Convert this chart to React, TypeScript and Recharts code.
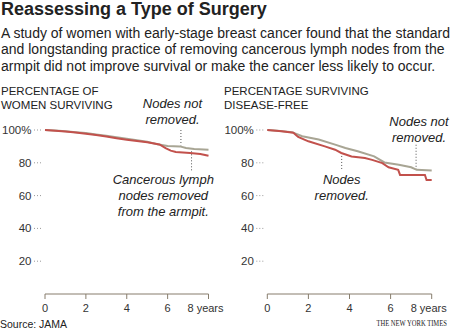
import { LineChart, Line, XAxis, YAxis, ReferenceLine } from 'recharts';

const yearTicks = [0, 2, 4, 6, 8];
const pctTicks = [20, 40, 60, 80, 100];

// Percentage of women surviving
const survNotRemovedYears = [0, 0.5, 1, 1.5, 2, 2.5, 3, 3.5, 4, 4.5, 5, 5.5, 6, 6.6, 6.9, 7.3, 8];
const survNotRemovedPct = [100, 99.7, 99.2, 98.7, 98.1, 97.3, 96.5, 95.6, 94.7, 93.8, 92.8, 91.3, 90.3, 90.0, 89.0, 88.4, 88.0];
const survRemovedYears = [0, 0.5, 1, 1.5, 2, 2.5, 3, 3.5, 4, 4.5, 5, 5.6, 5.9, 6.15, 6.4, 7.1, 7.6, 8];
const survRemovedPct = [100, 99.6, 99.1, 98.5, 97.7, 96.9, 96.0, 95.0, 94.1, 93.3, 92.5, 91.2, 89.0, 87.4, 86.6, 86.0, 85.4, 84.3];

// Percentage surviving disease-free
const dfNotRemovedYears = [0, 0.5, 1.2, 1.7, 2.5, 3.3, 3.8, 4.4, 5.2, 5.7, 6.4, 7.0, 7.27, 8];
const dfNotRemovedPct = [100, 99.5, 98.7, 96.2, 94.2, 91.1, 89.0, 87.0, 83.9, 80.2, 78.8, 77.3, 75.7, 75.3];
const dfRemovedYears = [0, 0.7, 1.27, 1.5, 2.0, 2.8, 3.3, 3.6, 4.1, 4.75, 5.1, 5.6, 5.9, 6.37, 6.46, 7.67, 7.75, 8];
const dfRemovedPct = [100, 99.3, 98.3, 95.8, 93.1, 90.0, 88.0, 86.0, 83.9, 82.9, 81.8, 79.8, 77.3, 75.7, 72.6, 72.6, 69.5, 69.5];

const GRAY = '#a8a594';
const RED = '#c2514c';
const AXIS = '#877d6d';
const FONT = '"Liberation Sans", Arial, sans-serif';

const toPoints = (years: number[], pct: number[]) => years.map((year, i) => ({ year, pct: pct[i] }));

function YearTick({ x, y, payload }: any) {
  const last = payload.value === 8;
  return (
    <text x={x} y={y + 13} dx={last ? -3 : 0} textAnchor="middle" fontSize={11} fill="#333" fontFamily={FONT}>
      {last ? '8 years' : payload.value}
    </text>
  );
}

function PctTick({ x, y, payload }: any) {
  return (
    <g>
      <line x1={x - 11} x2={x - 4} y1={y} y2={y} stroke="#999" strokeDasharray="1 2" />
      <text x={x - 13.5} y={y + 4} textAnchor="end" fontSize={11.5} fill="#333" fontFamily={FONT}>
        {payload.value === 100 ? '100%' : payload.value}
      </text>
    </g>
  );
}

type Leader = { x: number; y1: number; y2: number };

function Panel({ left, yWidth, rightMargin, notRemoved, removed, leaders }: {
  left: number; yWidth: number; rightMargin: number;
  notRemoved: { year: number; pct: number }[];
  removed: { year: number; pct: number }[];
  leaders: Leader[];
}) {
  return (
    <div style={{ position: 'absolute', left, top: 120 }}>
      <LineChart width={225} height={200} margin={{ top: 10, right: rightMargin, left: 0, bottom: 0 }}>
        <XAxis
          dataKey="year"
          type="number"
          domain={[0, 8]}
          ticks={yearTicks}
          height={26}
          stroke={AXIS}
          tickSize={5}
          tickMargin={0}
          tick={<YearTick />}
          allowDuplicatedCategory={false}
        />
        <YAxis
          type="number"
          domain={[0, 100]}
          ticks={pctTicks}
          width={yWidth}
          axisLine={false}
          tickLine={false}
          tickSize={0}
          tickMargin={0}
          tick={<PctTick />}
        />
        {leaders.map((l, i) => (
          <ReferenceLine
            key={i}
            segment={[{ x: l.x, y: l.y1 }, { x: l.x, y: l.y2 }]}
            stroke="#555"
            strokeDasharray="1 2"
          />
        ))}
        <Line data={notRemoved} dataKey="pct" stroke={GRAY} strokeWidth={2} dot={false} isAnimationActive={false} />
        <Line data={removed} dataKey="pct" stroke={RED} strokeWidth={2} dot={false} isAnimationActive={false} />
      </LineChart>
    </div>
  );
}

const note = (left: number, top: number, lines: string[]) => (
  <div style={{
    position: 'absolute', left: left - 70, top, width: 140, textAlign: 'center',
    fontStyle: 'italic', fontSize: 13, lineHeight: '16px', color: '#222'
  }}>
    {lines.map((t, i) => <div key={i}>{t}</div>)}
  </div>
);

export default function App() {
  return (
    <div style={{ position: 'absolute', left: 0, top: 0, width: 450, height: 330, overflow: 'hidden', background: '#fff', fontFamily: FONT, color: '#222' }}>
      <div style={{ position: 'absolute', left: 1, top: -1, fontSize: 18, fontWeight: 'bold', lineHeight: '20px' }}>
        Reassessing a Type of Surgery
      </div>
      <div style={{ position: 'absolute', left: 1, top: 24.5, width: 460, fontSize: 14, lineHeight: '16.5px' }}>
        <div>A study of women with early-stage breast cancer found that the standard</div>
        <div>and longstanding practice of removing cancerous lymph nodes from the</div>
        <div>armpit did not improve survival or make the cancer less likely to occur.</div>
      </div>
      <div style={{ position: 'absolute', left: 1, top: 85.3, fontSize: 11.5, lineHeight: '13.3px' }}>
        <div>PERCENTAGE OF</div>
        <div>WOMEN SURVIVING</div>
      </div>
      <div style={{ position: 'absolute', left: 224, top: 85.3, fontSize: 11.5, lineHeight: '13.3px' }}>
        <div>PERCENTAGE SURVIVING</div>
        <div>DISEASE-FREE</div>
      </div>

      <Panel
        left={0}
        yWidth={45}
        rightMargin={16.5}
        notRemoved={toPoints(survNotRemovedYears, survNotRemovedPct)}
        removed={toPoints(survRemovedYears, survRemovedPct)}
        leaders={[{ x: 6.65, y1: 100, y2: 90.6 }, { x: 7.17, y1: 87, y2: 74.6 }]}
      />
      <Panel
        left={225}
        yWidth={42.3}
        rightMargin={18.3}
        notRemoved={toPoints(dfNotRemovedYears, dfNotRemovedPct)}
        removed={toPoints(dfRemovedYears, dfRemovedPct)}
        leaders={[{ x: 7.24, y1: 91, y2: 76 }, { x: 3.62, y1: 86, y2: 75.7 }]}
      />

      {note(172.5, 96.4, ['Nodes not', 'removed.'])}
      {note(163.3, 172.4, ['Cancerous lymph', 'nodes removed', 'from the armpit.'])}
      {note(419, 114.4, ['Nodes not', 'removed.'])}
      {note(341.7, 172.4, ['Nodes', 'removed.'])}

      <div style={{ position: 'absolute', left: 0, top: 317.5, fontSize: 10.5, lineHeight: '12px' }}>
        Source: JAMA
      </div>
      <div style={{
        position: 'absolute', right: 3, top: 319, fontSize: 8, lineHeight: '10px',
        fontFamily: '"Liberation Serif", "Times New Roman", serif', transform: 'scaleX(0.82)', transformOrigin: 'right center'
      }}>
        THE NEW YORK TIMES
      </div>
    </div>
  );
}
